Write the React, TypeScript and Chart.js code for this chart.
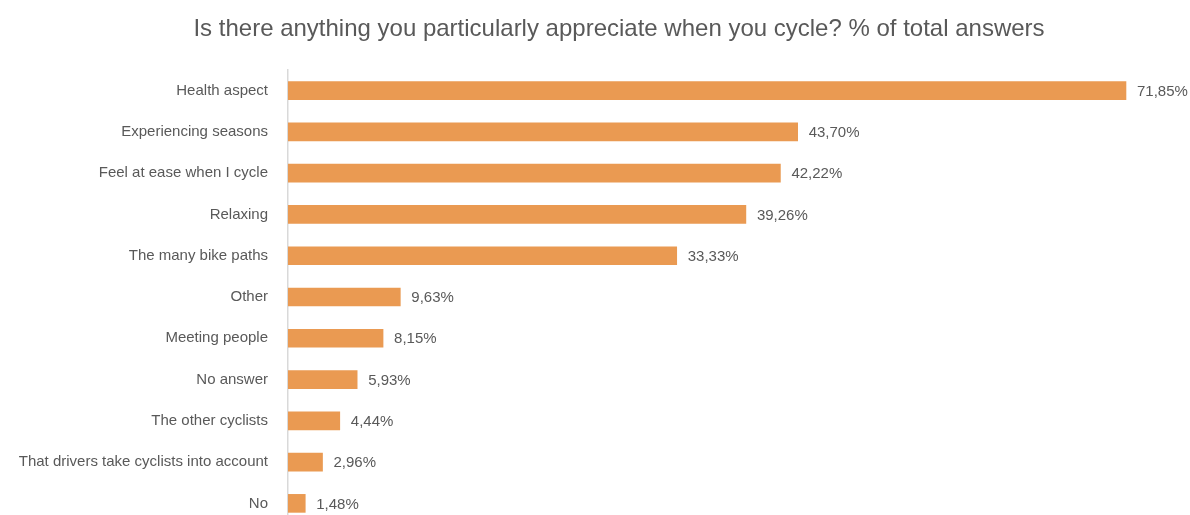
import React, { useEffect, useRef } from "react";
import { Chart, registerables } from "chart.js";

Chart.register(...registerables);

const TITLE = "Is there anything you particularly appreciate when you cycle? % of total answers";
const categories = [
  "Health aspect",
  "Experiencing seasons",
  "Feel at ease when I cycle",
  "Relaxing",
  "The many bike paths",
  "Other",
  "Meeting people",
  "No answer",
  "The other cyclists",
  "That drivers take cyclists into account",
  "No",
];
const values = [71.85, 43.7, 42.22, 39.26, 33.33, 9.63, 8.15, 5.93, 4.44, 2.96, 1.48];
const valueLabels = ["71,85%", "43,70%", "42,22%", "39,26%", "33,33%", "9,63%", "8,15%", "5,93%", "4,44%", "2,96%", "1,48%"];

const FONT = "'Liberation Sans Narrow', 'Arial Narrow', 'Liberation Sans', Arial, sans-serif";

export default function App() {
  const ref = useRef<HTMLCanvasElement>(null);
  useEffect(() => {
    if (!ref.current) return;
    const labelPlugin = {
      id: "valueLabels",
      afterDatasetsDraw(chart: any) {
        const ctx = chart.ctx;
        const meta = chart.getDatasetMeta(0);
        ctx.save();
        ctx.font = `15px ${FONT}`;
        ctx.fillStyle = "#595959";
        ctx.textAlign = "left";
        ctx.textBaseline = "middle";
        meta.data.forEach((bar: any, i: number) => {
          ctx.fillText(valueLabels[i], bar.x + 11, bar.y + 1);
        });
        ctx.font = `24px ${FONT}`;
        ctx.textAlign = "center";
        ctx.fillText(TITLE, 619, 29);
        ctx.restore();
      },
    };
    const chart = new Chart(ref.current, {
      type: "bar",
      data: {
        labels: categories,
        datasets: [
          {
            data: values,
            backgroundColor: "#EA9A52",
            barThickness: 18,
          },
        ],
      },
      options: {
        indexAxis: "y",
        animation: false,
        responsive: true,
        maintainAspectRatio: false,
        layout: { padding: { top: 70, bottom: 1, left: 0, right: 0 } },
        plugins: {
          legend: { display: false },
          title: { display: false },
          tooltip: { enabled: false },
        },
        scales: {
          x: { display: false, min: 0, max: 77.34 },
          y: {
            afterFit(scale: any) {
              scale.width = 288;
              scale.paddingTop = 0;
              scale.paddingBottom = 0;
            },
            grid: { display: false, drawTicks: false },
            border: { display: true, color: "#D9D9D9", width: 1.5 },
            ticks: {
              color: "#595959",
              font: { family: FONT, size: 15 },
              padding: 20,
            },
          },
        },
      },
      plugins: [labelPlugin],
    });
    return () => chart.destroy();
  }, []);
  return (
    <div style={{ position: "fixed", left: 0, top: 0, width: 1190, height: 515, overflow: "hidden", background: "#fff" }}>
      <div style={{ position: "relative", width: 1190, height: 525 }}>
        <canvas ref={ref} style={{ display: "block" }} />
      </div>
    </div>
  );
}
